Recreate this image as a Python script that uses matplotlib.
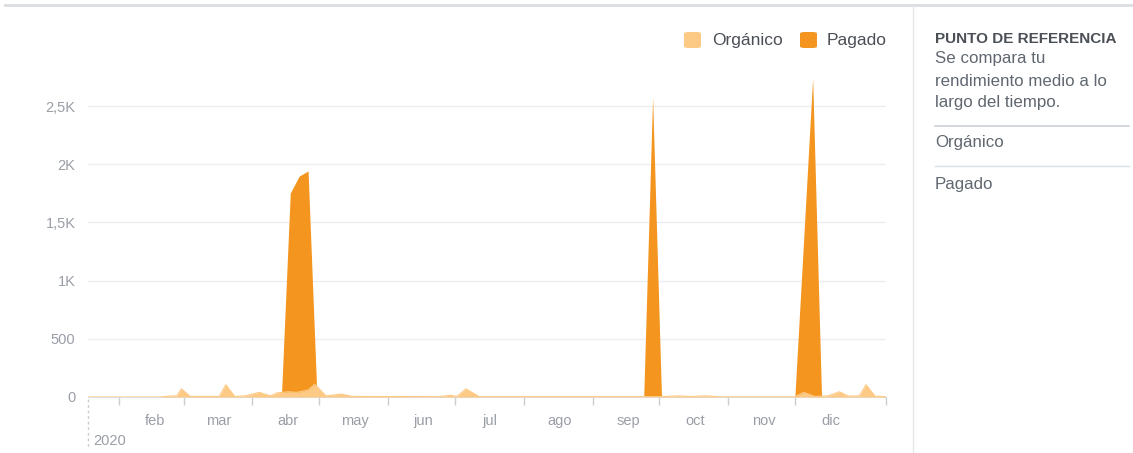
import numpy as np
import pandas as pd
import matplotlib
matplotlib.use("Agg")
import matplotlib.pyplot as plt
from matplotlib.patches import FancyBboxPatch
from matplotlib.lines import Line2D

plt.rcParams["font.family"] = ["Liberation Sans", "DejaVu Sans"]

# data
organic_dates = [
    "2020-01-18", "2020-02-19", "2020-02-24", "2020-02-27", "2020-02-29", "2020-03-04",
    "2020-03-17", "2020-03-20", "2020-03-24", "2020-03-29", "2020-04-04", "2020-04-09",
    "2020-04-12", "2020-04-17", "2020-04-21", "2020-04-26", "2020-04-29", "2020-05-04",
    "2020-05-11", "2020-05-16", "2020-06-24", "2020-06-29", "2020-07-02", "2020-07-06",
    "2020-07-12", "2020-10-02", "2020-10-09", "2020-10-15", "2020-10-22", "2020-10-28",
    "2020-12-01", "2020-12-05", "2020-12-10", "2020-12-16", "2020-12-21", "2020-12-25",
    "2020-12-30", "2021-01-02", "2021-01-06", "2021-01-11",
]
organic_values = [
    0, 0, 8, 10, 70, 5,
    5, 105, 5, 10, 40, 10,
    35, 45, 40, 60, 110, 10,
    25, 5, 3, 15, 5, 70,
    3, 3, 10, 4, 10, 2,
    2, 40, 5, 10, 45, 8,
    10, 105, 8, 3,
]

paid_dates = [
    "2020-01-18", "2020-04-14", "2020-04-18", "2020-04-22", "2020-04-26", "2020-04-30",
    "2020-09-24", "2020-09-28", "2020-10-02", "2020-12-01", "2020-12-09", "2020-12-13",
    "2021-01-11",
]
paid_values = [0, 0, 1752, 1898, 1942, 0, 0, 2577, 0, 0, 2740, 0, 0]

month_labels = ["feb", "mar", "abr", "may", "jun", "jul", "ago", "sep", "oct", "nov", "dic"]
ytick_values = [0, 500, 1000, 1500, 2000, 2500]
ytick_labels = ["0", "500", "1K", "1,5K", "2K", "2,5K"]

ORG = "#FDCA86"
PAID = "#F3951E"
GRAY = "#9a9ea6"
DARK = "#4b4f56"

W, H = 1133, 453
fig = plt.figure(figsize=(W / 100, H / 100), dpi=100)

x0, x1 = 88, 886
y0 = 397
ymax = 2850
px_per_unit = 58.2 / 500
ax = fig.add_axes([x0 / W, (H - y0) / H, (x1 - x0) / W, ymax * px_per_unit / H])

od = pd.to_datetime(organic_dates)
pdd = pd.to_datetime(paid_dates)
ax.fill_between(pdd, paid_values, color=PAID, lw=0, zorder=2)
ax.fill_between(od, organic_values, color=ORG, lw=0, zorder=3)
ax.plot(od, organic_values, color=ORG, lw=0.8, zorder=3)

ax.set_xlim(pd.Timestamp("2020-01-18"), pd.Timestamp("2021-01-11"))
ax.set_ylim(0, ymax)

ax.set_yticks(ytick_values)
ax.set_yticklabels(ytick_labels)
ax.tick_params(axis="y", length=0, pad=9, labelsize=10.5, labelcolor=GRAY)
ax.yaxis.grid(True, color="#ebedf0", lw=1)
ax.set_axisbelow(True)

major = list(pd.date_range("2020-02-01", "2020-12-01", freq="MS")) + [pd.Timestamp("2021-01-11")]
minor = pd.date_range("2020-02-01", "2020-12-01", freq="MS") + pd.Timedelta(days=16)
ax.set_xticks(major)
ax.set_xticklabels([])
ax.set_xticks(minor, minor=True)
ax.set_xticklabels(month_labels, minor=True)
ax.tick_params(axis="x", which="major", length=6, color="#c9ccd1", width=1)
ax.tick_params(axis="x", which="minor", length=0, pad=12, labelsize=10.5, labelcolor=GRAY)

for s in ["top", "right", "left"]:
    ax.spines[s].set_visible(False)
ax.spines["bottom"].set_color("#dddfe2")

# year marker
fig.add_artist(Line2D([x0 / W, x0 / W], [(H - 399) / H, (H - 447) / H],
                      color="#c9ccd1", lw=1, ls=(0, (2, 2))))
fig.text(93 / W, (H - 441) / H, "2020", fontsize=10.5, color=GRAY, va="center")

# frame lines
fig.add_artist(Line2D([5 / W, 1], [(H - 5) / H, (H - 5) / H], color="#dadde1", lw=2))
fig.add_artist(Line2D([913 / W, 913 / W], [(H - 6) / H, 0], color="#e4e6ea", lw=1))

# legend
for lx, label, col, tx in [(684, "Orgánico", ORG, 712), (800, "Pagado", PAID, 827)]:
    fig.add_artist(FancyBboxPatch((lx / W, (H - 48) / H), 17 / W, 16 / H,
                                  boxstyle="round,pad=0,rounding_size=0.004",
                                  transform=fig.transFigure, color=col, lw=0))
    fig.text(tx / W, (H - 40) / H, label, fontsize=12.5, color=DARK, va="center")

# right panel
fig.text(935 / W, (H - 39) / H, "PUNTO DE REFERENCIA", fontsize=11,
         fontweight="bold", color=DARK, va="center")
for i, line in enumerate(["Se compara tu", "rendimiento medio a lo", "largo del tiempo."]):
    fig.text(935 / W, (H - 59 - 22 * i) / H, line, fontsize=12.2, color="#606770", va="center")
fig.add_artist(Line2D([935 / W, 1129 / W], [(H - 126) / H] * 2, color="#ccd0d5", lw=1.2))
fig.text(935 / W, (H - 143) / H, "Orgánico", fontsize=12.2, color="#606770", va="center")
fig.add_artist(Line2D([935 / W, 1129 / W], [(H - 166) / H] * 2, color="#dadde1", lw=1))
fig.text(935 / W, (H - 184) / H, "Pagado", fontsize=12.2, color="#606770", va="center")

fig.savefig("out.png", dpi=100)
